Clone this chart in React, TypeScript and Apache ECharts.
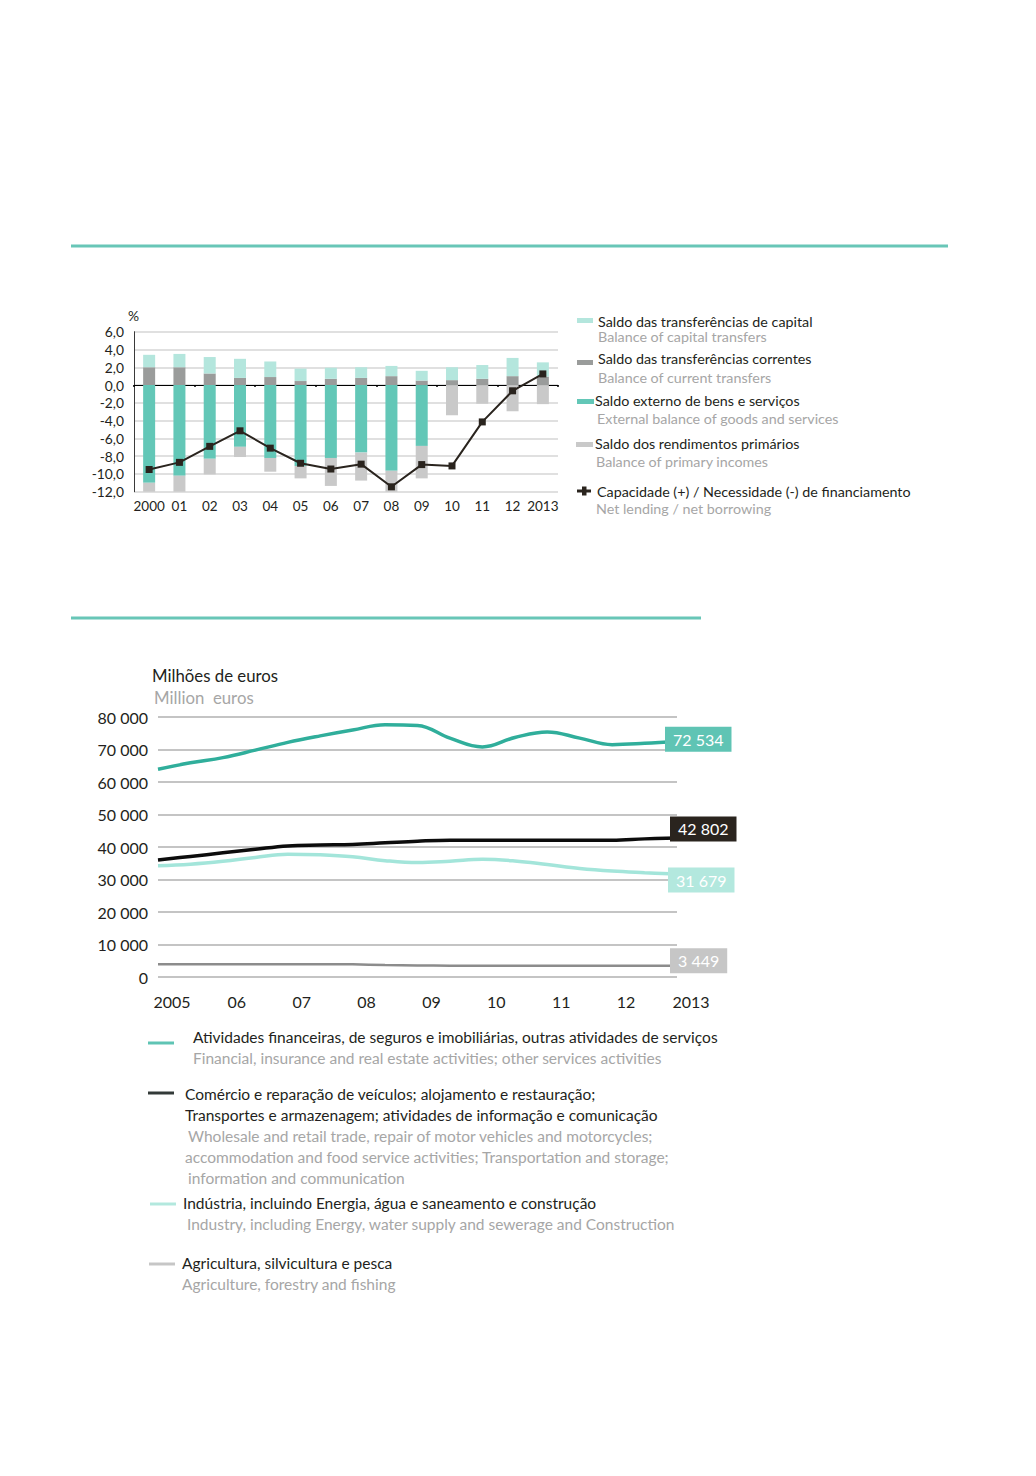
import React, { useEffect, useRef } from "react";
import * as echarts from "echarts";

// ---------- Top chart data (% of GDP) ----------
const topYears = ["2000", "01", "02", "03", "04", "05", "06", "07", "08", "09", "10", "11", "12", "2013"];
const currentTransfers = [2.0, 2.0, 1.3, 0.8, 0.9, 0.45, 0.7, 0.8, 1.0, 0.5, 0.55, 0.7, 1.0, 0.95];
const capitalTransfers = [1.4, 1.5, 1.85, 2.15, 1.75, 1.4, 1.25, 1.2, 1.15, 1.1, 1.45, 1.55, 2.05, 1.6];
const goodsServices = [-11.0, -10.2, -8.3, -6.95, -8.2, -9.1, -8.2, -7.6, -9.65, -6.85, null, null, null, null];
const primaryIncomes = [-1.2, -2.0, -1.75, -1.15, -1.55, -1.4, -3.15, -3.15, -2.55, -3.65, -3.4, -2.1, -2.95, -2.15];
const netLending = [-9.5, -8.7, -6.9, -5.15, -7.1, -8.8, -9.45, -8.9, -11.45, -8.95, -9.1, -4.15, -0.65, 1.25];

// ---------- Bottom chart data (million euros, half-year readings) ----------
const halfYears = [2005, 2005.5, 2006, 2006.5, 2007, 2007.5, 2008, 2008.5, 2009, 2009.5, 2010, 2010.5, 2011, 2011.5, 2012, 2012.5, 2013];
const financial = [63900, 65900, 67500, 69800, 72200, 74200, 76000, 77600, 77400, 73500, 70800, 73700, 75400, 73500, 71500, 71900, 72534];
const commerce = [36000, 37100, 38200, 39300, 40300, 40600, 40800, 41300, 41800, 42100, 42100, 42100, 42100, 42100, 42100, 42500, 42802];
const industry = [34200, 34700, 35600, 36800, 37800, 37600, 37000, 35800, 35200, 35600, 36200, 35700, 34600, 33400, 32600, 32100, 31679];
const agriculture = [3950, 3950, 3950, 3950, 3950, 3950, 3900, 3700, 3550, 3500, 3500, 3500, 3500, 3500, 3480, 3460, 3449];
const yTicksBottom = [0, 80000, 10000];

const FONT = 'Lato, "Open Sans", sans-serif';
const DARK = "#231f20";
const GREY_TXT = "#a6a6a6";
const LEG_TOP = 14.3;
const LEG_BOT = 15.5;

const fmtThousands = (v: number) => String(v).replace(/\B(?=(\d{3})+(?!\d))/g, " ");
const pairs = (ys: number[]) => halfYears.map((x, i) => [x, ys[i]]);

function txt(x: number, y: number, text: string, fill: string, size: number) {
  return {
    type: "text",
    x,
    y,
    style: { text, fill, font: `${size}px ${FONT}`, verticalAlign: "middle", align: "left" },
  };
}

export default function App() {
  const ref = useRef<HTMLDivElement>(null);
  useEffect(() => {
    if (!ref.current) return;
    const chart = echarts.init(ref.current, undefined, { renderer: "svg" });

    const lineEnd = (data: number[], bg: string, offset: number[]) => ({
      show: true,
      formatter: fmtThousands(data[data.length - 1]),
      backgroundColor: bg,
      color: "#ffffff",
      fontSize: 16,
      fontFamily: FONT,
      padding: [5, 8, 4, 8],
      distance: 0,
      offset,
    });

    const option: any = {
      animation: false,
      textStyle: { fontFamily: FONT },
      grid: [
        { left: 134, top: 331.7, width: 424, height: 160 },
        { left: 158, top: 717, width: 519, height: 260 },
      ],
      xAxis: [
        {
          type: "category",
          gridIndex: 0,
          data: topYears,
          axisLine: { onZero: true, lineStyle: { color: "#000", width: 1 } },
          axisTick: { show: true, length: 2, lineStyle: { color: "#000", width: 1.5 } },
          axisLabel: { show: false },
          splitLine: { show: false },
        },
        {
          type: "category",
          gridIndex: 0,
          position: "bottom",
          data: topYears,
          axisLine: { show: false, onZero: false },
          axisTick: { show: false },
          axisLabel: { color: DARK, fontSize: 13.5, margin: 7, interval: 0 },
          splitLine: { show: false },
        },
        {
          type: "value",
          gridIndex: 1,
          min: 2005,
          max: 2013,
          interval: 1,
          axisLine: { show: false },
          axisTick: { show: false },
          splitLine: { show: false },
          axisLabel: {
            color: DARK,
            fontSize: 16,
            margin: 16,
            padding: [0, 0, 0, 28],
            formatter: (v: number) => (v === 2005 || v === 2013 ? String(v) : String(v).slice(2)),
          },
        },
      ],
      yAxis: [
        {
          type: "value",
          gridIndex: 0,
          min: -12,
          max: 6,
          interval: 2,
          axisLine: { show: true, lineStyle: { color: "#3a3a3a", width: 1 } },
          axisTick: { show: false },
          axisLabel: {
            color: DARK,
            fontSize: 13.8,
            margin: 10,
            formatter: (v: number) => v.toFixed(1).replace(".", ","),
          },
          splitLine: { lineStyle: { color: "#d6d6d6", width: 1.5 } },
        },
        {
          type: "value",
          gridIndex: 1,
          min: yTicksBottom[0],
          max: yTicksBottom[1],
          interval: yTicksBottom[2],
          axisLine: { show: false },
          axisTick: { show: false },
          axisLabel: {
            color: DARK,
            fontSize: 16,
            margin: 10,
            formatter: (v: number) => fmtThousands(v),
          },
          splitLine: { lineStyle: { color: "#c4c4c4", width: 2 } },
        },
      ],
      series: [
        {
          name: "Saldo das transferências correntes",
          type: "bar",
          stack: "bal",
          xAxisIndex: 0,
          yAxisIndex: 0,
          barWidth: 12,
          data: currentTransfers,
          itemStyle: { color: "#9a9c9b" },
        },
        {
          name: "Saldo das transferências de capital",
          type: "bar",
          stack: "bal",
          xAxisIndex: 0,
          yAxisIndex: 0,
          barWidth: 12,
          data: capitalTransfers,
          itemStyle: { color: "#b4e6dd" },
        },
        {
          name: "Saldo externo de bens e serviços",
          type: "bar",
          stack: "bal",
          xAxisIndex: 0,
          yAxisIndex: 0,
          barWidth: 12,
          data: goodsServices,
          itemStyle: { color: "#63c7b7" },
        },
        {
          name: "Saldo dos rendimentos primários",
          type: "bar",
          stack: "bal",
          xAxisIndex: 0,
          yAxisIndex: 0,
          barWidth: 12,
          data: primaryIncomes,
          itemStyle: { color: "#c9c9c9" },
        },
        {
          name: "Capacidade (+) / Necessidade (-) de financiamento",
          type: "line",
          xAxisIndex: 0,
          yAxisIndex: 0,
          data: netLending,
          symbol: "rect",
          symbolSize: 7,
          z: 5,
          lineStyle: { color: "#2a241e", width: 2 },
          itemStyle: { color: "#2a241e" },
        },
        {
          name: "Agricultura",
          type: "line",
          xAxisIndex: 2,
          yAxisIndex: 1,
          data: pairs(agriculture),
          smooth: 0.4,
          symbol: "none",
          lineStyle: { color: "#8c8c8c", width: 2.5 },
          endLabel: lineEnd(agriculture, "#c6c6c6", [-7, -5]),
        },
        {
          name: "Indústria",
          type: "line",
          xAxisIndex: 2,
          yAxisIndex: 1,
          data: pairs(industry),
          smooth: 0.4,
          symbol: "none",
          lineStyle: { color: "#a3e5da", width: 3.5 },
          endLabel: lineEnd(industry, "#b3e8de", [-9, 6]),
        },
        {
          name: "Comércio",
          type: "line",
          xAxisIndex: 2,
          yAxisIndex: 1,
          data: pairs(commerce),
          smooth: 0.4,
          symbol: "none",
          lineStyle: { color: "#0c0c0c", width: 3.5 },
          endLabel: lineEnd(commerce, "#2a241e", [-7, -9]),
        },
        {
          name: "Atividades financeiras",
          type: "line",
          xAxisIndex: 2,
          yAxisIndex: 1,
          data: pairs(financial),
          smooth: 0.4,
          symbol: "none",
          lineStyle: { color: "#30ae9b", width: 3.5 },
          endLabel: lineEnd(financial, "#5fc4b4", [-12, -2]),
        },
      ],
      graphic: [
        { type: "rect", shape: { x: 71, y: 244.5, width: 877, height: 3 }, style: { fill: "#68c6b7" } },
        { type: "rect", shape: { x: 71, y: 616.5, width: 630, height: 3 }, style: { fill: "#68c6b7" } },
        txt(128, 315, "%", DARK, 13.8),
        // top legend
        { type: "rect", shape: { x: 577, y: 318, width: 16, height: 5 }, style: { fill: "#b4e6dd" } },
        txt(598, 321, "Saldo das transferências de capital", DARK, LEG_TOP),
        txt(598, 336, "Balance of capital transfers", GREY_TXT, LEG_TOP),
        { type: "rect", shape: { x: 577, y: 360, width: 16, height: 5 }, style: { fill: "#9a9c9b" } },
        txt(598, 358, "Saldo das transferências correntes", DARK, LEG_TOP),
        txt(598, 377, "Balance of current transfers", GREY_TXT, LEG_TOP),
        { type: "rect", shape: { x: 577, y: 399, width: 17, height: 5 }, style: { fill: "#63c7b7" } },
        txt(595, 400, "Saldo externo de bens e serviços", DARK, LEG_TOP),
        txt(597, 418, "External balance of goods and services", GREY_TXT, LEG_TOP),
        { type: "rect", shape: { x: 576, y: 442, width: 17, height: 5 }, style: { fill: "#c9c9c9" } },
        txt(595, 443, "Saldo dos rendimentos primários", DARK, LEG_TOP),
        txt(596, 461, "Balance of primary incomes", GREY_TXT, LEG_TOP),
        { type: "rect", shape: { x: 577, y: 489.5, width: 14, height: 3 }, style: { fill: "#2a241e" } },
        { type: "rect", shape: { x: 582, y: 486.5, width: 4.5, height: 9 }, style: { fill: "#2a241e" } },
        txt(597, 491, "Capacidade (+) / Necessidade (-) de financiamento", DARK, LEG_TOP),
        txt(596, 508, "Net lending / net borrowing", GREY_TXT, LEG_TOP),
        // bottom titles
        txt(152, 675, "Milhões de euros", DARK, 16.8),
        txt(154, 697, "Million  euros", GREY_TXT, 16.8),
        // bottom legend
        { type: "rect", shape: { x: 148, y: 1041.5, width: 26, height: 3 }, style: { fill: "#5fc4b4" } },
        txt(193, 1037, "Atividades financeiras, de seguros e imobiliárias, outras atividades de serviços", DARK, LEG_BOT),
        txt(193, 1058, "Financial, insurance and real estate activities; other services activities", GREY_TXT, LEG_BOT),
        { type: "rect", shape: { x: 148, y: 1091.5, width: 26, height: 3 }, style: { fill: "#333a38" } },
        txt(185, 1094, "Comércio e reparação de veículos; alojamento e restauração;", DARK, LEG_BOT),
        txt(185, 1115, "Transportes e armazenagem; atividades de informação e comunicação", DARK, LEG_BOT),
        txt(188, 1136, "Wholesale and retail trade, repair of motor vehicles and motorcycles;", GREY_TXT, LEG_BOT),
        txt(185, 1157, "accommodation and food service activities; Transportation and storage;", GREY_TXT, LEG_BOT),
        txt(188, 1178, "information and communication", GREY_TXT, LEG_BOT),
        { type: "rect", shape: { x: 150, y: 1202.5, width: 26, height: 3 }, style: { fill: "#b3e8de" } },
        txt(183, 1203, "Indústria, incluindo Energia, água e saneamento e construção", DARK, LEG_BOT),
        txt(187, 1224, "Industry, including Energy, water supply and sewerage and Construction", GREY_TXT, LEG_BOT),
        { type: "rect", shape: { x: 149, y: 1262.5, width: 26, height: 3 }, style: { fill: "#c6c6c6" } },
        txt(182, 1263, "Agricultura, silvicultura e pesca", DARK, LEG_BOT),
        txt(182, 1284, "Agriculture, forestry and fishing", GREY_TXT, LEG_BOT),
      ],
    };
    chart.setOption(option);
    return () => chart.dispose();
  }, []);

  return (
    <div
      ref={ref}
      style={{ position: "absolute", left: 0, top: 0, width: 1036, height: 1476, background: "#fff" }}
    />
  );
}
